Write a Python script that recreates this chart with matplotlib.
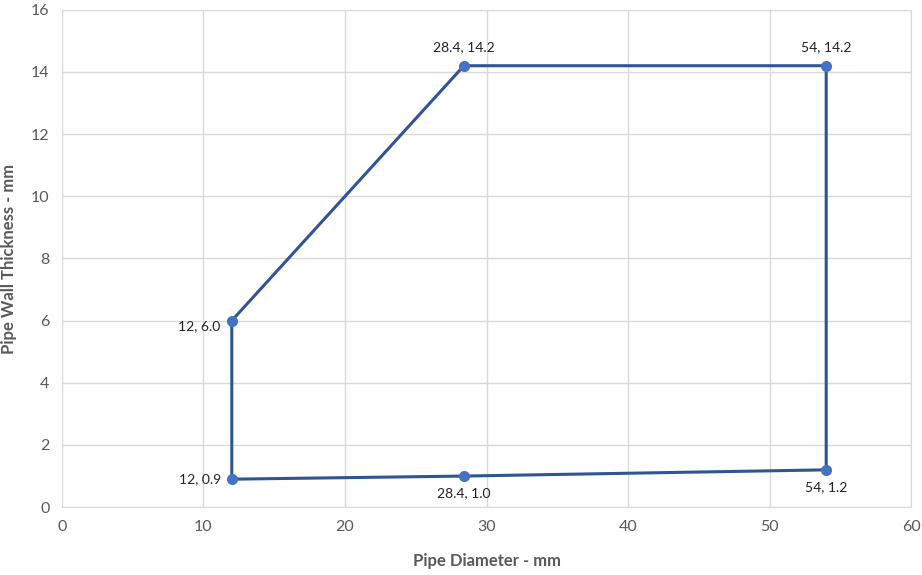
import matplotlib
matplotlib.use("Agg")
import matplotlib.pyplot as plt

# outline of the allowed region (closed polygon)
diameter = [12, 12, 28.4, 54, 54, 28.4, 12]
thickness = [6.0, 0.9, 1.0, 1.2, 14.2, 14.2, 6.0]
labels = ["12, 6.0", "12, 0.9", "28.4, 1.0", "54, 1.2", "54, 14.2", "28.4, 14.2"]
# where each label sits relative to its point
offsets = [(-8, -4, "right", "center"), (-8, 0, "right", "center"),
           (0, -8, "center", "top"), (0, -8, "center", "top"),
           (0, 9, "center", "bottom"), (0, 9, "center", "bottom")]

plt.rcParams['font.family'] = ['Lato', 'DejaVu Sans']

fig = plt.figure(figsize=(9.22, 5.75), dpi=100)
ax = fig.add_axes([0.0672, 0.118, 0.921, 0.865])

ax.plot(diameter, thickness, color="#2F5597", lw=2.2, zorder=3)
ax.plot(diameter[:-1], thickness[:-1], "o", color="#4472C4", ms=7, zorder=4)

for x, y, lab, (dx, dy, ha, va) in zip(diameter, thickness, labels, offsets):
    ax.annotate(lab, (x, y), xytext=(dx, dy), textcoords="offset points",
                ha=ha, va=va, fontsize=10, color="#222222")

ax.set_xlim(0, 60)
ax.set_ylim(0, 16)
ax.set_xticks(range(0, 61, 10))
ax.set_yticks(range(0, 17, 2))
ax.grid(True, color="#D9D9D9", lw=1)
ax.set_axisbelow(True)
for s in ax.spines.values():
    s.set_color("#D9D9D9")
ax.tick_params(length=0, labelsize=11.5, labelcolor="#595959", pad=9)

ax.set_xlabel("Pipe Diameter - mm", fontsize=12, fontweight="bold", color="#595959", labelpad=14)
ax.set_ylabel("Pipe Wall Thickness - mm", fontsize=12, fontweight="bold", color="#595959", labelpad=10)

fig.savefig("out.png", dpi=100)
